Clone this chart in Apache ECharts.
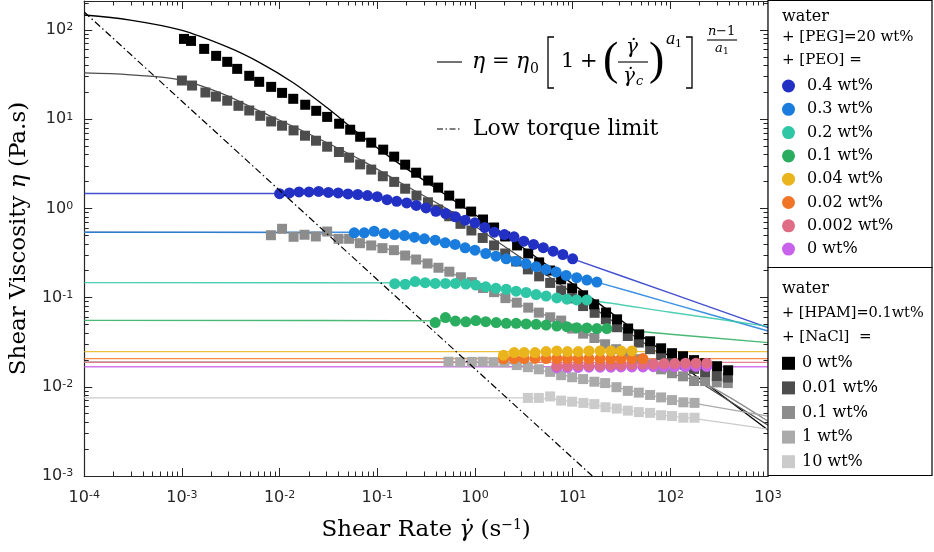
<!DOCTYPE html>
<html><head><meta charset="utf-8">
<script src="https://cdn.jsdelivr.net/npm/echarts@6/dist/echarts.min.js"></script>
<style>html,body{margin:0;padding:0;background:#fff}#c{width:934px;height:552px}</style>
</head><body><div id="c"></div><script>
// ---------- tick values ----------
const majorX = [1e-4, 1e-3, 1e-2, 1e-1, 1, 10, 100, 1000];
const majorY = [1e-3, 1e-2, 1e-1, 1, 10, 100];
const minorMult = [2, 3, 4, 5, 6, 7, 8, 9];

// ---------- PEO series (circles) ----------
const peo04Rate = [0.01,0.0126,0.0158,0.02,0.0251,0.0316,0.0398,0.0501,0.0631,0.0794,0.1,0.126,0.158,0.2,0.251,0.316,0.398,0.501,0.631,0.794,1,1.26,1.58,2,2.51,3.16,3.98,5.01,6.31,7.94,10];
const peo04Eta  = [1.46,1.49,1.53,1.53,1.55,1.51,1.49,1.45,1.43,1.39,1.35,1.25,1.20,1.15,1.08,1.01,0.928,0.875,0.803,0.736,0.688,0.610,0.540,0.509,0.480,0.429,0.394,0.362,0.331,0.304,0.272];
const peo03Rate = [0.0581,0.0735,0.0929,0.118,0.150,0.190,0.240,0.304,0.392,0.496,0.627,0.794,1.00,1.29,1.64,2.09,2.64,3.34,4.23,5.35,6.78,8.58,11.0,14.0,17.7];
const peo03Eta  = [0.532,0.532,0.554,0.522,0.509,0.496,0.475,0.456,0.440,0.411,0.394,0.361,0.340,0.312,0.291,0.272,0.256,0.239,0.222,0.207,0.193,0.177,0.167,0.157,0.149];
const peo02Rate = [0.151,0.193,0.244,0.309,0.392,0.499,0.631,0.807,1.02,1.29,1.64,2.09,2.64,3.34,4.23,5.35,6.89,8.73,11.0,14.0];
const peo02Eta  = [0.143,0.141,0.151,0.147,0.144,0.144,0.144,0.142,0.138,0.132,0.127,0.124,0.118,0.114,0.108,0.104,0.099,0.096,0.094,0.094];
const peo01Rate = [0.392,0.499,0.631,0.807,1.02,1.29,1.65,2.09,2.64,3.34,4.23,5.35,6.89,8.73,11.0,14.0,17.7,22.4];
const peo01Eta  = [0.0524,0.0596,0.0546,0.0535,0.0552,0.0537,0.0524,0.0514,0.0514,0.0506,0.0501,0.0492,0.0480,0.0472,0.0460,0.0456,0.0449,0.0449];
const peo004Rate = [1.96,2.52,3.19,4.13,5.35,6.89,8.85,11.4,14.7,19.1,24.6,31.3,40.4];
const peo004Eta  = [0.0226,0.0242,0.0242,0.0242,0.0248,0.0252,0.0248,0.0248,0.0252,0.0252,0.0252,0.0252,0.0252];
const peo002Rate = [1.96,2.52,3.19,4.13,5.35,6.89,8.85,11.4,14.7,19.1,24.6,31.3,40.4,52.4];
const peo002Eta  = [0.0206,0.0207,0.0207,0.0208,0.0207,0.0207,0.0208,0.0207,0.0207,0.0207,0.0206,0.0207,0.0207,0.0207];
const peo0002Rate = [6.89,8.85,11.4,14.7,19.1,24.6,31.3,40.4,52.4,67.2,86.4,111,143,183,236];
const peo0002Eta  = [0.0172,0.0172,0.0174,0.0174,0.0174,0.0176,0.0176,0.0178,0.0180,0.0180,0.0182,0.0182,0.0184,0.0184,0.0184];
const peo0Rate = [6.89,8.85,11.4,14.7,19.1,24.6,31.3,40.4,52.4,67.2,86.4,111,143,183,236];
const peo0Eta  = [0.0164,0.0165,0.0165,0.0166,0.0166,0.0166,0.0167,0.0167,0.0167,0.0168,0.0168,0.0168,0.0168,0.0169,0.0169];

// ---------- HPAM + NaCl series (squares) ----------
const nacl0Rate = [1.05e-3,1.24e-3,1.69e-3,2.24e-3,2.91e-3,3.68e-3,4.89e-3,6.18e-3,8.2e-3,1.06e-2,1.38e-2,1.83e-2,2.37e-2,3.07e-2,4.07e-2,5.28e-2,6.68e-2,8.67e-2,0.115,0.149,0.193,0.250,0.332,0.42,0.545,0.705,0.914,1.21,1.57,2.04,2.70,3.51,4.54,5.89,7.63,9.89,12.8,16.6,22.0,28.5,37.0,48.0,62.1,80.5,104,135,175,227,301,391];
const nacl0Eta  = [79.3,75.3,61.3,51.2,43.9,36.6,30.6,26.2,23.0,19.7,16.9,14.5,12.4,10.6,8.89,7.61,6.35,5.45,4.55,3.80,3.09,2.51,2.05,1.71,1.39,1.13,0.92,0.75,0.61,0.484,0.384,0.312,0.248,0.201,0.160,0.127,0.106,0.084,0.068,0.057,0.045,0.0387,0.0324,0.0270,0.0238,0.0220,0.0199,0.0184,0.0170,0.0153];
const nacl001Rate = [1.00e-3,1.27e-3,1.74e-3,2.23e-3,2.91e-3,3.79e-3,4.89e-3,6.34e-3,8.20e-3,1.06e-2,1.39e-2,1.82e-2,2.36e-2,3.07e-2,4.05e-2,5.15e-2,6.68e-2,8.67e-2,0.114,0.149,0.193,0.252,0.330,0.420,0.545,0.711,0.920,1.20,1.57,2.04,2.64,3.48,4.54,5.89,7.63,9.89,12.8,16.8,21.9,28.5,36.7,47.6,62.1,80.5,104,135,175,227,299,388];
const nacl001Eta  = [27.1,23.8,19.9,17.9,16.1,14.1,12.5,10.9,9.42,8.44,7.48,6.52,5.73,4.91,4.28,3.70,3.11,2.72,2.29,1.98,1.66,1.39,1.17,0.970,0.816,0.671,0.565,0.466,0.384,0.312,0.254,0.207,0.173,0.146,0.120,0.098,0.0803,0.0675,0.0570,0.0465,0.0371,0.0313,0.0264,0.0225,0.0199,0.0179,0.0159,0.0146,0.0132,0.0127];
const nacl01Rate = [8.15e-3,1.06e-2,1.39e-2,1.80e-2,2.35e-2,3.07e-2,4.01e-2,5.15e-2,6.64e-2,8.67e-2,0.113,0.148,0.193,0.250,0.327,0.423,0.547,0.718,0.929,1.21,1.57,2.05,2.68,3.51,4.51,5.89,7.63,9.89,12.8,16.7,21.5,27.9,36.1,47.6,62.1,80.5,104,135,175,227,299,388];
const nacl01Eta  = [0.500,0.590,0.480,0.506,0.484,0.550,0.456,0.456,0.407,0.384,0.358,0.340,0.296,0.267,0.241,0.216,0.195,0.169,0.149,0.128,0.115,0.0986,0.0877,0.0771,0.0678,0.0601,0.0552,0.0449,0.0394,0.0352,0.0300,0.0264,0.0232,0.0204,0.0179,0.0157,0.0142,0.0131,0.0116,0.0116,0.0112,0.0110];
const nacl1Rate = [0.536,0.706,0.929,1.20,1.55,2.00,2.68,3.48,4.51,5.89,7.63,9.89,12.8,16.7,21.5,28.1,36.7,47.6,62.1,80.5,104,136,177];
const nacl1Eta  = [0.0191,0.0189,0.0190,0.0191,0.0189,0.0188,0.0175,0.0166,0.0157,0.0147,0.0135,0.0128,0.0122,0.0114,0.0110,0.0099,0.0090,0.0086,0.0081,0.0076,0.0071,0.0067,0.0066];
const nacl10Rate = [3.48,4.51,5.89,7.63,9.89,12.9,16.7,21.7,28.3,36.7,47.6,62.1,80.5,104,136,177];
const nacl10Eta  = [0.0075,0.0075,0.0078,0.0070,0.0068,0.0066,0.0064,0.0059,0.0057,0.0054,0.0052,0.0051,0.0048,0.0047,0.0045,0.0045];

// ---------- fitted curves ----------
const fitNacl0Rate = [1e-4,2.96e-4,9.62e-4,2.91e-3,6.33e-3,0.0138,0.0307,0.0668,0.146,0.324,0.705,1.81,5.89,19.1,62.1,202,1000];
const fitNacl0Eta  = [147,129,100,64.5,42.8,25.6,13.4,6.70,3.52,1.95,1.10,0.550,0.218,0.0839,0.0316,0.0122,0.00327];
const fitNacl001Rate = [1e-4,2.96e-4,9.62e-4,2.47e-3,6.33e-3,0.0163,0.0668,0.171,0.705,1.81,5.89,19.1,62.1,202,1000];
const fitNacl001Eta  = [33.0,31.4,27.6,19.7,12.2,7.60,3.52,1.95,0.810,0.404,0.168,0.0683,0.0277,0.01125,0.00372];
const fitNacl01Rate = [1e-4,0.01,0.03,0.1,0.3,1,3,10,30,100,227,1000];
const fitNacl01Eta  = [0.54,0.535,0.51,0.38,0.25,0.145,0.082,0.047,0.025,0.0142,0.0108,0.0041];
const fitNacl1Rate = [1e-4,1,2,3,5,10,30,100,177,1000];
const fitNacl1Eta  = [0.0190,0.0190,0.0186,0.0172,0.0152,0.0128,0.0097,0.0072,0.0065,0.0047];
const fitNacl10Rate = [1e-4,3,6,10,30,100,177,1000];
const fitNacl10Eta  = [0.0075,0.0075,0.0073,0.0068,0.0056,0.0047,0.0044,0.00336];
const fitPeo04Rate = [1e-4,0.01,0.0316,0.1,0.316,1,3.16,10,100,1000];
const fitPeo04Eta  = [1.47,1.47,1.46,1.33,1.01,0.688,0.429,0.272,0.112,0.046];
const fitPeo03Rate = [1e-4,0.05,0.15,0.4,1,3.34,10,17.7,100,1000];
const fitPeo03Eta  = [0.54,0.54,0.51,0.44,0.34,0.239,0.175,0.149,0.0867,0.0422];
const fitPeo02Rate = [1e-4,0.5,1,3,6,14,100,1000];
const fitPeo02Eta  = [0.147,0.146,0.139,0.116,0.101,0.094,0.0685,0.0476];
const fitPeo01Rate = [1e-4,1,3,10,22.4,100,1000];
const fitPeo01Eta  = [0.0555,0.0548,0.0512,0.0468,0.0449,0.0388,0.0313];
const flatRate = [1e-4, 1000];
const fitPeo004Eta = [0.0248, 0.0248];
const fitPeo002Eta = [0.0207, 0.0207];
const fitPeo0002Eta = [0.0188, 0.0188];
const fitPeo0Eta = [0.0168, 0.0168];
const torqueRate = [1e-4, 15.9];
const torqueEta = [159, 1e-3];

// ---------- labels ----------
const peoNames = ['0.4 wt%','0.3 wt%','0.2 wt%','0.1 wt%','0.04 wt%','0.02 wt%','0.002 wt%','0 wt%'];
const naclNames = ['0 wt%','0.01 wt%','0.1 wt%','1 wt%','10 wt%'];

const peoColors = ['#2231c4','#1a7cdc','#2fc6a6','#2aad5e','#eab51c','#f17526','#df6b84','#c862ea'];
const naclColors = ['#000000','#4d4d4d','#8c8c8c','#aaaaaa','#cbcbcb'];

const pairs = (xs, ys) => xs.map((x, i) => [x, ys[i]]);

const peoData = [[peo04Rate,peo04Eta],[peo03Rate,peo03Eta],[peo02Rate,peo02Eta],[peo01Rate,peo01Eta],[peo004Rate,peo004Eta],[peo002Rate,peo002Eta],[peo0002Rate,peo0002Eta],[peo0Rate,peo0Eta]];
const peoFits = [[fitPeo04Rate,fitPeo04Eta],[fitPeo03Rate,fitPeo03Eta],[fitPeo02Rate,fitPeo02Eta],[fitPeo01Rate,fitPeo01Eta],[flatRate,fitPeo004Eta],[flatRate,fitPeo002Eta],[flatRate,fitPeo0002Eta],[flatRate,fitPeo0Eta]];
const naclData = [[nacl0Rate,nacl0Eta],[nacl001Rate,nacl001Eta],[nacl01Rate,nacl01Eta],[nacl1Rate,nacl1Eta],[nacl10Rate,nacl10Eta]];
const naclFits = [[fitNacl0Rate,fitNacl0Eta],[fitNacl001Rate,fitNacl001Eta],[fitNacl01Rate,fitNacl01Eta],[fitNacl1Rate,fitNacl1Eta],[fitNacl10Rate,fitNacl10Eta]];

const X_MIN = 1e-4, X_MAX = 1e3, Y_MIN = 1e-3, Y_MAX = 211;
const minorOf = (majors, lo, hi) => {
  const out = [];
  majors.forEach(m => minorMult.forEach(k => { const v = +(m * k).toPrecision(3); if (v > lo && v < hi) out.push(v); }));
  return out;
};
const minorX = minorOf(majorX, X_MIN, X_MAX);
const minorY = minorOf(majorY, Y_MIN, Y_MAX);

const AX = '#262626';
const tickRich = {
  b: {fontSize: 16, fontFamily: 'DejaVu Sans', color: AX, lineHeight: 16, padding: [4, 0, 0, 0], verticalAlign: 'bottom'},
  s: {fontSize: 11, fontFamily: 'DejaVu Sans', color: AX, lineHeight: 11, verticalAlign: 'top'}
};
const powLabel = v => '{b|10}{s|' + Math.round(Math.log10(v)) + '}';
const serif = '"DejaVu Serif", serif';
const thinSerif = '"Liberation Serif", serif';

function axis(kind, pos, ticks, len, showLine, label, extra) {
  const isX = kind === 'x';
  return Object.assign({
    type: 'log', logBase: 10, position: pos,
    min: isX ? X_MIN : Y_MIN, max: isX ? X_MAX : Y_MAX,
    axisLine: {show: showLine, lineStyle: {color: AX, width: 1.2}},
    axisTick: {show: true, inside: true, length: len, customValues: ticks, lineStyle: {color: AX, width: 1}},
    axisLabel: label ? {show: true, customValues: ticks, formatter: powLabel, rich: tickRich, margin: isX ? 14 : 11} : {show: false},
    splitLine: {show: false}, minorTick: {show: false}, minorSplitLine: {show: false}
  }, extra || {});
}

const series = [];
naclFits.forEach((f, i) => series.push({type: 'line', data: pairs(f[0], f[1]), symbol: 'none', smooth: 0.35, silent: true, z: 2,
  lineStyle: {color: naclColors[i], width: 1.3}}));
peoFits.forEach((f, i) => series.push({type: 'line', data: pairs(f[0], f[1]), symbol: 'none', smooth: 0.35, silent: true, z: 2,
  lineStyle: {color: peoColors[i], width: 1.4, opacity: 0.85}}));
for (let i = naclData.length - 1; i >= 0; i--) {
  series.push({type: 'scatter', name: 'n' + i, data: pairs(naclData[i][0], naclData[i][1]), symbol: 'rect', symbolSize: 10,
    itemStyle: {color: naclColors[i], opacity: 1}, z: 3, emphasis: {disabled: true}});
}
for (let i = peoData.length - 1; i >= 0; i--) {
  series.push({type: 'scatter', name: 'p' + i, data: pairs(peoData[i][0], peoData[i][1]), symbol: 'circle', symbolSize: 11,
    itemStyle: {color: peoColors[i], opacity: 1}, z: 4, emphasis: {disabled: true}});
}
series.push({type: 'line', data: pairs(torqueRate, torqueEta), symbol: 'none', silent: true, z: 5,
  lineStyle: {color: '#000', width: 1.2, type: [7, 3, 1.5, 3]}});

const T = (x, y, text, size, italic, align, fam) => ({type: 'text', z: 10, style: {x, y, text, fill: '#000',
  font: (italic ? 'italic ' : '') + size + 'px ' + (fam || serif), align: align || 'left', verticalAlign: 'middle'}});
const L = (x1, y1, x2, y2, dash) => ({type: 'line', z: 10, shape: {x1, y1, x2, y2}, style: {stroke: '#000', lineWidth: 1.1, lineDash: dash || null}});
const P = pts => ({type: 'polyline', z: 10, shape: {points: pts}, style: {stroke: '#000', lineWidth: 1.3, fill: null}});

const graphic = [
  {type: 'rect', z: 9, shape: {x: 768, y: 0.5, width: 164, height: 267}, style: {fill: '#fff', stroke: '#000', lineWidth: 1.2}},
  {type: 'rect', z: 9, shape: {x: 768, y: 267.5, width: 164, height: 208}, style: {fill: '#fff', stroke: '#000', lineWidth: 1.2}},
  T(782, 17, 'water', 16), T(782, 37, '+ [PEG]=20 wt%', 15), T(782, 60, '+ [PEO] =', 15),
  T(782, 289, 'water', 16), T(782, 313, '+ [HPAM]=0.1wt%', 14.5), T(782, 337, '+ [NaCl]  =', 15),
  // inner legend: model equation
  L(437, 62, 462, 62),
  T(472, 62, 'η', 22, true), T(492, 62, '=', 21), T(516, 62, 'η', 22, true), T(530, 69, '0', 14),
  P([[554, 37], [548, 37], [548, 88], [554, 88]]),
  T(561, 62, '1', 21), T(580, 62, '+', 21),
  T(603, 62, '(', 46, false, 'left', thinSerif),
  T(632, 48, 'γ\u0307', 20, true, 'center'),
  L(618, 62, 648, 62),
  T(629, 77, 'γ\u0307', 20, true, 'center'), T(636, 82, 'c', 13, true),
  T(649, 62, ')', 46, false, 'left', thinSerif), T(666, 40, 'a', 16, true), T(675, 44, '1', 11),
  P([[686, 37], [692, 37], [692, 88], [686, 88]]),
  T(708, 32, 'n', 13, true), T(716, 32, '−1', 13), L(707, 40, 737, 40), T(715, 49, 'a', 13, true), T(723, 52, '1', 9),
  // inner legend: torque limit
  L(437, 129, 462, 129, [6, 2.5, 1.5, 2.5]), T(473, 129, 'Low torque limit', 22)
];

const legendBase = {orient: 'vertical', itemWidth: 13, itemHeight: 13, selectedMode: false, z: 11, padding: 0,
  textStyle: {fontFamily: serif, fontSize: 16, color: '#000'}};

const option = {
  animation: false,
  backgroundColor: '#fff',
  grid: {left: 84, right: 166, top: 1, bottom: 76},
  xAxis: [
    axis('x', 'bottom', majorX, 8, true, true, {
      name: '{n|Shear Rate }{i|γ\u0307}{n| (s}{s|−1}{n|)}', nameLocation: 'middle', nameGap: 42,
      nameTextStyle: {rich: {n: {fontFamily: serif, fontSize: 23, color: '#000', lineHeight: 24, padding: [5, 0, 0, 0], verticalAlign: 'bottom'},
        i: {fontFamily: serif, fontStyle: 'italic', fontSize: 23, color: '#000', lineHeight: 24, padding: [5, 0, 0, 0], verticalAlign: 'bottom'},
        s: {fontFamily: serif, fontSize: 14, color: '#000', lineHeight: 14, verticalAlign: 'top'}}}
    }),
    axis('x', 'bottom', minorX, 4.5, false, false),
    axis('x', 'top', majorX, 8, true, false),
    axis('x', 'top', minorX, 4.5, false, false)
  ],
  yAxis: [
    axis('y', 'left', majorY, 8, true, true, {
      name: '{n|Shear Viscosity }{i|η}{n| (Pa.s)}', nameLocation: 'middle', nameGap: 48,
      nameTextStyle: {rich: {n: {fontFamily: serif, fontSize: 23, color: '#000'}, i: {fontFamily: serif, fontStyle: 'italic', fontSize: 23, color: '#000'}}}
    }),
    axis('y', 'left', minorY, 4.5, false, false),
    axis('y', 'right', majorY, 8, true, false),
    axis('y', 'right', minorY, 4.5, false, false)
  ],
  legend: [
    Object.assign({}, legendBase, {left: 782, top: 78, itemGap: 7.3, icon: 'circle',
      data: peoNames.map((_, i) => 'p' + i),
      formatter: n => peoNames[+n.slice(1)],
      textStyle: Object.assign({}, legendBase.textStyle, {padding: [0, 0, 0, 7]})}),
    Object.assign({}, legendBase, {left: 782, top: 355.3, itemGap: 8.6, icon: 'rect',
      data: naclNames.map((_, i) => 'n' + i),
      formatter: n => naclNames[+n.slice(1)],
      textStyle: Object.assign({}, legendBase.textStyle, {padding: [0, 0, 0, 2]})})
  ],
  series,
  graphic
};

const chart = echarts.init(document.getElementById('c'), null, {renderer: 'canvas'});
chart.setOption(option);
</script></body></html>
